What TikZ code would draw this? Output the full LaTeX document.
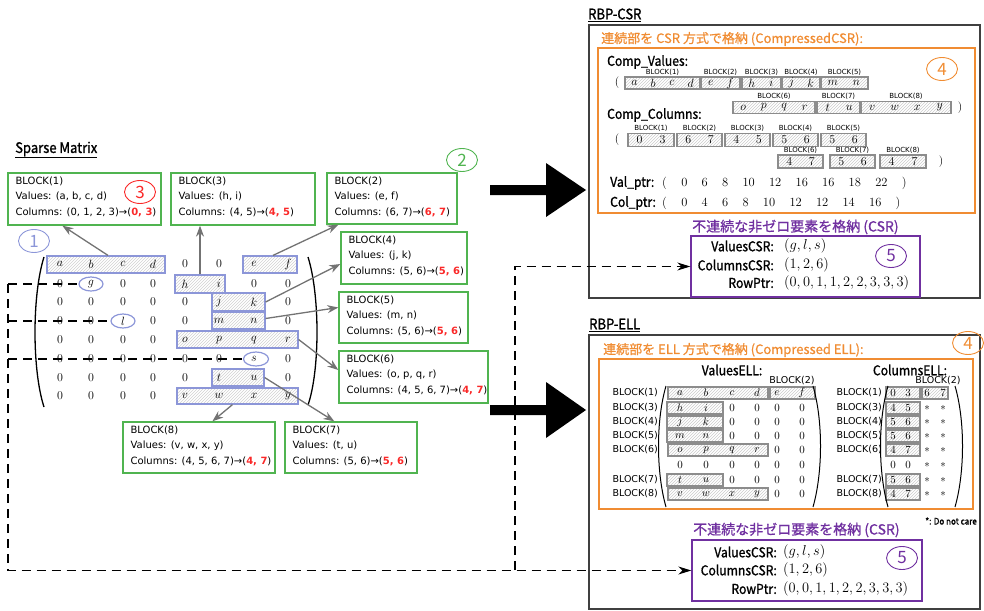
\documentclass[tikz,border=0pt]{standalone}
\usepackage[no-math]{fontspec}
\usetikzlibrary{patterns,arrows.meta,shapes.geometric}
\newfontfamily\jp{Noto Sans CJK JP}
\newfontfamily\jpb[FakeBold=0.8]{Noto Sans CJK JP}
\newfontfamily\cond[FakeStretch=0.9,FakeBold=1.2]{Noto Sans CJK JP}
\newfontfamily\lbl{DejaVu Sans}
\definecolor{grn}{RGB}{80,180,80}
\definecolor{rd}{RGB}{250,40,40}
\definecolor{lav}{RGB}{140,150,216}
\definecolor{org}{RGB}{240,140,50}
\definecolor{pur}{RGB}{112,48,160}
\definecolor{arr}{RGB}{115,115,115}
\newcommand\rn[1]{{\color{rd}\bfseries #1}}
\newcommand\gpp{\hspace{14.3pt}}
\def\cols{{60,91,123,153,185,219,254,288}}
\def\ecols{{680,706,732,757,777,802}}
\def\ccols{{893,908,927,943}}
\newcommand\mrow[3]{\foreach \e [count=\c] in {#3} {\pgfmathsetmacro\xx{\cols[\c-1]}\node[mtx] (#2\c) at (\xx,#1) {$\e$};}}
\newcommand\erow[3]{\foreach \e [count=\c] in {#3} {\pgfmathsetmacro\xx{\ecols[\c-1]}\node[ecell] (#2\c) at (\xx,#1) {$\e$};}}
\newcommand\crow[3]{\foreach \e [count=\c] in {#3} {\pgfmathsetmacro\xx{\ccols[\c-1]}\node[ecell] (#2\c) at (\xx,#1) {$\e$};}}
\newcommand\grp[9]{%
  \node[#8, minimum width={#3-#2}, minimum height=#5] (#1) at ({(#2+#3)/2},#4) {};
  \node[blk, anchor=south] (#1l) at ([yshift=1pt]#1.north) {#9};
  \foreach \e [count=\i] in {#7}
    \node[cell] (#1-\i) at ({#2+(\i-0.5)*(#3-#2)/#6},#4) {$\e$};
}
\tikzset{
 gbox/.style={draw=grn, line width=1.3pt, inner sep=0pt},
 btxt/.style={anchor=north west, align=left, inner sep=0pt, font=\lbl\fontsize{10}{15.5}\selectfont},
 lbox/.style={draw=lav, line width=1.2pt, pattern=north east lines, pattern color=black!18, inner sep=0pt},
 kbox/.style={draw=black!45, line width=1.4pt, pattern=north east lines, pattern color=black!20, inner sep=0pt},
 mtx/.style={inner sep=0pt, font=\fontsize{11.5}{11.5}\selectfont},
 cell/.style={inner sep=0pt, font=\fontsize{11.5}{11.5}\selectfont},
 ecell/.style={inner sep=0pt, font=\fontsize{10.5}{10.5}\selectfont},
 garr/.style={draw=arr, line width=1.3pt, -{Stealth[length=11pt,width=8pt]}},
 dsh/.style={draw=black, line width=1.2pt, dash pattern=on 9pt off 6pt},
 darr/.style={dsh, -{Stealth[length=13pt,width=8pt]}},
 circnum/.style={ellipse, draw=#1, text=#1, line width=0.9pt, minimum width=31pt, minimum height=23pt, inner sep=0pt, font=\jp\fontsize{17}{17}\selectfont},
 hd/.style={inner sep=0pt, font=\cond\fontsize{13.5}{13.5}\selectfont},
 ttl/.style={inner sep=0pt, anchor=west, font=\jpb\fontsize{13}{13}\selectfont},
 blk/.style={inner sep=0pt, font=\lbl\fontsize{7}{7}\selectfont},
 rlbl/.style={inner sep=0pt, anchor=east, font=\lbl\fontsize{9.5}{9.5}\selectfont},
 ell/.style={ellipse, draw=lav, line width=1.2pt, minimum width=24pt, minimum height=14pt, inner sep=0pt},
 mth/.style={inner sep=0pt, anchor=west, font=\fontsize{13.5}{13.5}\selectfont},
 num/.style={inner sep=0pt, anchor=west, font=\fontsize{12.5}{12.5}\selectfont},
 obox/.style={draw=org, line width=1.3pt},
 pbox/.style={draw=pur, line width=1.4pt, inner sep=0pt},
 kout/.style={draw=black!75, line width=1.2pt},
}
\begin{document}
\begin{tikzpicture}[x=1pt,y=-1pt]
\useasboundingbox (0,0) rectangle (984,610);

% ================= LEFT: sparse matrix =================
\node[hd, anchor=west, font=\cond\fontsize{14.5}{14.5}\selectfont] (tSM) at (15,150) {\underline{Sparse Matrix}};

\node[gbox, minimum width=153pt, minimum height=52pt] (B1) at (84.5,199) {};
\node[btxt] (B1t) at ([xshift=8pt,yshift=-4pt]B1.north west) {BLOCK(1)\\Values: (a, b, c, d)\\Columns: (0, 1, 2, 3)→(\rn{0, 3})};
\node[gbox, minimum width=144pt, minimum height=52pt] (B3) at (243,199) {};
\node[btxt] (B3t) at ([xshift=8pt,yshift=-4pt]B3.north west) {BLOCK(3)\\Values: (h, i)\\Columns: (4, 5)→(\rn{4, 5})};
\node[gbox, minimum width=130pt, minimum height=51pt] (B2) at (392,198.5) {};
\node[btxt] (B2t) at ([xshift=8pt,yshift=-4pt]B2.north west) {BLOCK(2)\\Values: (e, f)\\Columns: (6, 7)→(\rn{6, 7})};
\node[gbox, minimum width=126pt, minimum height=52pt] (B4) at (404,258) {};
\node[btxt] (B4t) at ([xshift=8pt,yshift=-4pt]B4.north west) {BLOCK(4)\\Values: (j, k)\\Columns: (5, 6)→(\rn{5, 6})};
\node[gbox, minimum width=129pt, minimum height=51pt] (B5) at (403.5,317.5) {};
\node[btxt] (B5t) at ([xshift=8pt,yshift=-4pt]B5.north west) {BLOCK(5)\\Values: (m, n)\\Columns: (5, 6)→(\rn{5, 6})};
\node[gbox, minimum width=149pt, minimum height=52pt] (B6) at (413.5,377) {};
\node[btxt] (B6t) at ([xshift=8pt,yshift=-4pt]B6.north west) {BLOCK(6)\\Values: (o, p, q, r)\\Columns: (4, 5, 6, 7)→(\rn{4, 7})};
\node[gbox, minimum width=152pt, minimum height=51pt] (B8) at (199,447.5) {};
\node[btxt] (B8t) at ([xshift=8pt,yshift=-4pt]B8.north west) {BLOCK(8)\\Values: (v, w, x, y)\\Columns: (4, 5, 6, 7)→(\rn{4, 7})};
\node[gbox, minimum width=132pt, minimum height=51pt] (B7) at (351,447.5) {};
\node[btxt] (B7t) at ([xshift=8pt,yshift=-4pt]B7.north west) {BLOCK(7)\\Values: (t, u)\\Columns: (5, 6)→(\rn{5, 6})};

\node[circnum=rd] (c3) at (140,192) {3};
\node[circnum=grn] (c2) at (462,160) {2};
\node[circnum=lav] (c1) at (34,241) {1};

% hatched blocks in the matrix
\node[lbox, minimum width=118pt, minimum height=17pt] (mA) at (106,264.5) {};
\node[lbox, minimum width=54pt, minimum height=17pt] (mEF) at (270,264.5) {};
\node[lbox, minimum width=50pt, minimum height=18pt] (mHI) at (200,284) {};
\node[lbox, minimum width=53pt, minimum height=18pt] (mJK) at (238.5,302) {};
\node[lbox, minimum width=53pt, minimum height=17pt] (mMN) at (238.5,320.5) {};
\node[lbox, minimum width=121pt, minimum height=17pt] (mOR) at (237.5,339.5) {};
\node[lbox, minimum width=52pt, minimum height=17pt] (mTU) at (238,377.5) {};
\node[lbox, minimum width=121pt, minimum height=16pt] (mVY) at (237.5,396) {};
\node[ell] (eg) at (91,284) {};
\node[ell] (el) at (123,321) {};
\node[ell, minimum width=25pt] (es) at (256,359) {};

\mrow{264}{ra}{a,b,c,d,0,0,e,f}
\mrow{284}{rb}{0,g,0,0,h,i,0,0}
\mrow{302}{rc}{0,0,0,0,0,j,k,0}
\mrow{321}{rd}{0,0,l,0,0,m,n,0}
\mrow{340}{re}{0,0,0,0,o,p,q,r}
\mrow{359}{rf}{0,0,0,0,0,0,s,0}
\mrow{378}{rg}{0,0,0,0,0,t,u,0}
\mrow{396}{rh}{0,0,0,0,v,w,x,y}

\draw[line width=1.3pt] (44,257) .. controls (32,295) and (32,370) .. (44,407);
\draw[line width=1.3pt] (308,257) .. controls (320,295) and (320,370) .. (308,405);

% gray arrows to blocks
\draw[garr] ([xshift=2pt]mA.north) -- ([xshift=55pt]B1.south west);
\draw[garr] (mHI.north) -- (mHI.north |- B3.south);
\draw[garr] ([xshift=3pt]mEF.north) -- ([xshift=12pt]B2.south west);
\draw[garr] (mJK.east) -- ([yshift=-6pt]B4.west);
\draw[garr] ([yshift=2pt]mMN.east) -- ([yshift=10pt]B5.west);
\draw[garr] (mOR.east) -- ([yshift=7pt]B6.west);
\draw[garr] (mTU.east) -- ([xshift=50pt]B7.north west);
\draw[garr] ([xshift=-5pt]mVY.south) -- ([xshift=90pt]B8.north west);

% big black arrows
\fill (490,185) -- (546,185) -- (546,163) -- (586,190) -- (546,217) -- (546,195) -- (490,195) -- cycle;
\fill (490,405) -- (546,405) -- (546,382) -- (586,410) -- (546,438) -- (546,415) -- (490,415) -- cycle;

% ================= RBP-CSR =================
\node[hd, anchor=west, font=\cond\fontsize{14.5}{14.5}\selectfont] (tCSR) at (588,15) {\underline{RBP-CSR}};
\draw[kout] (589,25) rectangle (980,298);
\node[ttl, text=org] (oT1) at (601,39) {連続部を CSR 方式で格納 (CompressedCSR):};
\draw[obox] (598,48) rectangle (975,213);
\node[hd, anchor=west] (cv) at (607,62) {Comp\_Values:};
\node[circnum=org] (c4a) at (942,69) {4};
\node[cell] (lpa) at (617,83) {(};
\grp{v1}{625}{700}{83}{12}{4}{a,b,c,d}{kbox}{BLOCK(1)}
\grp{v2}{701}{740}{83}{12}{2}{e,f}{kbox}{BLOCK(2)}
\grp{v3}{742}{781}{83}{12}{2}{h,i}{kbox}{BLOCK(3)}
\grp{v4}{782}{820}{83}{12}{2}{j,k}{kbox}{BLOCK(4)}
\grp{v5}{821}{868}{83}{12}{2}{m,n}{kbox}{BLOCK(5)}
\grp{v6}{733}{815}{107.5}{12}{4}{o,p,q,r}{kbox}{BLOCK(6)}
\grp{v7}{817}{860}{107.5}{12}{2}{t,u}{kbox}{BLOCK(7)}
\grp{v8}{861}{951}{107.5}{12}{4}{v,w,x,y}{kbox}{BLOCK(8)}
\node[cell] (rpa) at (960,108) {)};
\node[hd, anchor=west] (cc) at (607,115) {Comp\_Columns:};
\node[cell] (lpb) at (617,140) {(};
\grp{k1}{628}{674}{140}{13}{2}{0,3}{kbox}{BLOCK(1)}
\grp{k2}{677}{722}{140}{13}{2}{6,7}{kbox}{BLOCK(2)}
\grp{k3}{725}{770}{140}{13}{2}{4,5}{kbox}{BLOCK(3)}
\grp{k4}{773}{818}{140}{13}{2}{5,6}{kbox}{BLOCK(4)}
\grp{k5}{821}{866}{140}{13}{2}{5,6}{kbox}{BLOCK(5)}
\grp{k6}{778}{823}{161.5}{13}{2}{4,7}{kbox}{BLOCK(6)}
\grp{k7}{830}{875}{161.5}{13}{2}{5,6}{kbox}{BLOCK(7)}
\grp{k8}{880}{926}{161.5}{13}{2}{4,7}{kbox}{BLOCK(8)}
\node[cell] (rpb) at (941,162) {)};
\node[hd, anchor=west] (vp) at (610,183) {Val\_ptr:};
\node[num] (vpn) at (662,183) {(\gpp 0\gpp 6\gpp 8\gpp 10\gpp 12\gpp 16\gpp 16\gpp 18\gpp 22\gpp )};
\node[hd, anchor=west] (cp) at (610,203) {Col\_ptr:};
\node[num] (cpn) at (662,203) {(\gpp 0\gpp 4\gpp 6\gpp 8\gpp 10\gpp 12\gpp 12\gpp 14\gpp 16\gpp )};

\node[ttl, text=pur, font=\jpb\fontsize{14}{14}\selectfont] (pT1) at (692,227) {不連続な非ゼロ要素を格納 (CSR)};
\node[pbox, minimum width=229pt, minimum height=61pt] (P1) at (805.5,266.5) {};
\node[hd, anchor=east] (p1a) at (774,246) {ValuesCSR:};
\node[mth] (p1b) at (784,246) {$(g, l, s)$};
\node[hd, anchor=east] (p1c) at (774,265) {ColumnsCSR:};
\node[mth] (p1d) at (784,265) {$(1, 2, 6)$};
\node[hd, anchor=east] (p1e) at (774,283) {RowPtr:};
\node[mth] (p1f) at (784,283) {$(0,0,1,1,2,2,3,3,3)$};
\node[circnum=pur] (c5a) at (891,256) {5};

% ================= RBP-ELL =================
\node[hd, anchor=west, font=\cond\fontsize{14.5}{14.5}\selectfont] (tELL) at (589,325) {\underline{RBP-ELL}};
\draw[kout] (589,335) rectangle (980,609);
\node[ttl, text=org] (oT2) at (603,350) {連続部を ELL 方式で格納 (Compressed ELL):};
\draw[obox] (599,359) rectangle (973,509);
\node[circnum=org] (c4b) at (968,343) {4};
\node[hd] (hv) at (732,370) {ValuesELL:};
\node[hd] (hc) at (910,370) {ColumnsELL:};
\node[rlbl, anchor=center] (lb2a) at (792,381) {BLOCK(2)};
\node[rlbl, anchor=center] (lb2b) at (938,381) {BLOCK(2)};

\node[kbox, minimum width=100pt, minimum height=12pt] (eA) at (718,393) {};
\node[kbox, minimum width=45pt, minimum height=12pt] (eB) at (792.5,393) {};
\node[kbox, minimum width=56pt, minimum height=12pt] (eH) at (695,408) {};
\node[kbox, minimum width=56pt, minimum height=12pt] (eJ) at (695,422) {};
\node[kbox, minimum width=56pt, minimum height=12pt] (eM) at (695,436) {};
\node[kbox, minimum width=100pt, minimum height=12pt] (eO) at (718,450) {};
\node[kbox, minimum width=56pt, minimum height=12pt] (eT) at (695,480) {};
\node[kbox, minimum width=100pt, minimum height=12pt] (eV) at (718,494) {};
\node[kbox, minimum width=34pt, minimum height=12pt] (kA) at (903,393) {};
\node[kbox, minimum width=26pt, minimum height=12pt] (kB) at (935,393) {};
\node[kbox, minimum width=34pt, minimum height=12pt] (kH) at (903,408) {};
\node[kbox, minimum width=34pt, minimum height=12pt] (kJ) at (903,422) {};
\node[kbox, minimum width=34pt, minimum height=12pt] (kM) at (903,436) {};
\node[kbox, minimum width=34pt, minimum height=12pt] (kO) at (903,450) {};
\node[kbox, minimum width=34pt, minimum height=12pt] (kT) at (903,480) {};
\node[kbox, minimum width=34pt, minimum height=12pt] (kV) at (903,494) {};

\erow{393}{ea}{a,b,c,d,e,f}
\erow{408}{eh}{h,i,0,0,0,0}
\erow{422}{ej}{j,k,0,0,0,0}
\erow{436}{em}{m,n,0,0,0,0}
\erow{450}{eo}{o,p,q,r,0,0}
\erow{465}{ez}{0,0,0,0,0,0}
\erow{480}{et}{t,u,0,0,0,0}
\erow{494}{ev}{v,w,x,y,0,0}
\crow{393}{ca}{0,3,6,7}
\crow{408}{ch}{4,5,*,*}
\crow{422}{cj}{5,6,*,*}
\crow{436}{cm}{5,6,*,*}
\crow{450}{co}{4,7,*,*}
\crow{465}{cz}{0,0,*,*}
\crow{480}{ct}{5,6,*,*}
\crow{494}{cv}{4,7,*,*}
\foreach \y/\t in {393/1,408/3,422/4,436/5,450/6,480/7,494/8} {
  \node[rlbl] (lv\t) at (658,\y) {BLOCK(\t)};
  \node[rlbl] (lc\t) at (882,\y) {BLOCK(\t)};
}
\draw[line width=1pt] (666,386) .. controls (656,420) and (656,472) .. (666,507);
\draw[line width=1pt] (813,386) .. controls (823,420) and (823,472) .. (813,507);
\draw[line width=1pt] (888,386) .. controls (878,420) and (878,472) .. (888,507);
\draw[line width=1pt] (955,386) .. controls (965,420) and (965,472) .. (955,507);
\node[inner sep=0pt, anchor=east, font=\cond\fontsize{9}{9}\selectfont] (dnc) at (977,521) {*: Do not care};

\node[ttl, text=pur, font=\jpb\fontsize{14}{14}\selectfont] (pT2) at (693,530) {不連続な非ゼロ要素を格納 (CSR)};
\node[pbox, minimum width=230pt, minimum height=61pt] (P2) at (807,570.5) {};
\node[hd, anchor=east] (p2a) at (777,552) {ValuesCSR:};
\node[mth] (p2b) at (783,552) {$(g, l, s)$};
\node[hd, anchor=east] (p2c) at (777,570) {ColumnsCSR:};
\node[mth] (p2d) at (783,570) {$(1, 2, 6)$};
\node[hd, anchor=east] (p2e) at (777,589) {RowPtr:};
\node[mth] (p2f) at (783,589) {$(0,0,1,1,2,2,3,3,3)$};
\node[circnum=pur] (c5b) at (902,558) {5};

% ================= dashed connectors =================
\coordinate (d1) at (8,284);
\coordinate (d3) at (8,321);
\coordinate (d5) at (8,359);
\coordinate (d6) at (515,570);
\draw[dsh] (d1) -- (eg.west);
\draw[dsh] (d3) -- (el.west);
\draw[dsh] (d5) -- (es.west);
\draw[darr] (d1) |- (P2.west);
\draw[darr] (d6) |- (P1.west);
\end{tikzpicture}
\end{document}
